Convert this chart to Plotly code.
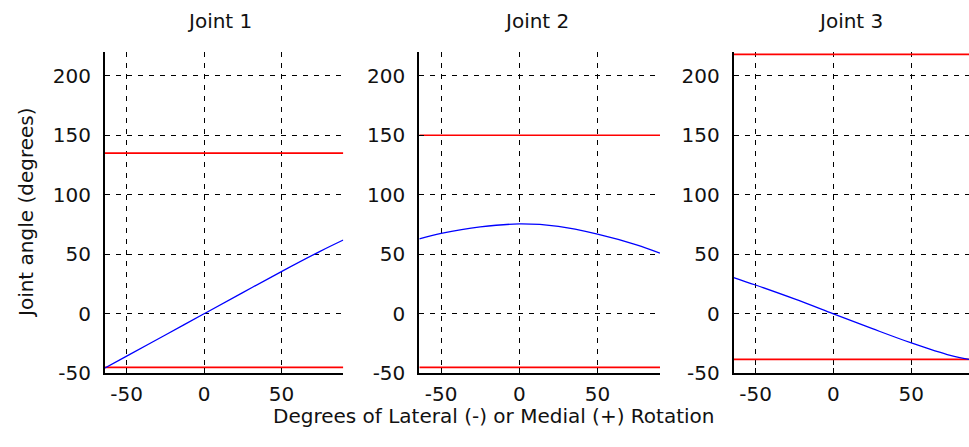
import plotly.graph_objects as go

# ---- data ----
titles = ["Joint 1", "Joint 2", "Joint 3"]
x_j1 = [-64, -50, -25, 0, 25, 50, 75, 90]
y_j1 = [-45.5, -35.6, -17.8, 0, 17.8, 35.5, 52.5, 62]
x_j2 = [-64, -50, -25, 0, 25, 50, 75, 90]
y_j2 = [63, 67.5, 73, 75.5, 73.5, 67, 58, 51]
x_j3 = [-64, -50, -25, 0, 25, 50, 75, 87]
y_j3 = [30.5, 24.2, 12.5, 0, -12.5, -24.5, -35, -38.3]
upper_limits = [135, 150, 218]
lower_limits = [-45, -45, -38.3]
x_min = [-64, -64, -64]
x_max = [90, 90, 87]
y_range = [-50, 220]
x_ticks = [-50, 0, 50]
x_tick_labels = ["-50", "0", "50"]
y_ticks = [-50, 0, 50, 100, 150, 200]
y_tick_labels = ["-50", "0", "50", "100", "150", "200"]

curves = [(x_j1, y_j1), (x_j2, y_j2), (x_j3, y_j3)]

W, H = 969, 447
x_domains = [[105 / W, 343.3 / W], [419.3 / W, 660 / W], [733.7 / W, 1.0]]
y_domain = [(H - 373.3) / H, (H - 52) / H]
title_x = [219, 536, 850]

FONT = "DejaVu Sans, Liberation Sans, sans-serif"
TXT = "#111111"
fig = go.Figure()
for i in range(3):
    xa = "x" if i == 0 else f"x{i+1}"
    ya = "y" if i == 0 else f"y{i+1}"
    for lim in (upper_limits[i], lower_limits[i]):
        fig.add_trace(go.Scatter(x=[x_min[i], x_max[i]], y=[lim, lim], mode="lines",
                                 line=dict(color="#ff0000", width=1.6),
                                 xaxis=xa, yaxis=ya, showlegend=False, cliponaxis=False))
    fig.add_trace(go.Scatter(x=curves[i][0], y=curves[i][1], mode="lines",
                             line=dict(color="#0000ff", width=1.3, shape="spline"),
                             xaxis=xa, yaxis=ya, showlegend=False))
    axcommon = dict(showline=True, linecolor="black", linewidth=2, mirror=False,
                    showgrid=True, gridcolor="black", gridwidth=1, griddash="5px,6px",
                    ticks="inside", ticklen=5, tickcolor="black", zeroline=False,
                    automargin=False,
                    tickfont=dict(family=FONT, size=20, color=TXT))
    xkey = "xaxis" if i == 0 else f"xaxis{i+1}"
    ykey = "yaxis" if i == 0 else f"yaxis{i+1}"
    fig.update_layout({
        xkey: dict(domain=x_domains[i], range=[x_min[i], x_max[i]], tickvals=x_ticks,
                   ticktext=x_tick_labels, anchor=ya, ticklabelstandoff=2, **axcommon),
        ykey: dict(domain=y_domain, range=y_range, tickvals=y_ticks, ticktext=y_tick_labels,
                   anchor=xa, ticklabelstandoff=8, **axcommon),
    })
    fig.add_annotation(text=titles[i], xref="paper", yref="paper",
                       x=title_x[i] / W, y=1 - 21 / H, xanchor="center", yanchor="middle",
                       showarrow=False, font=dict(family=FONT, size=20, color=TXT))

fig.add_annotation(text="Joint angle (degrees)", xref="paper", yref="paper",
                   x=26 / W, y=1 - 213 / H, textangle=-90, xanchor="center", yanchor="middle",
                   showarrow=False, font=dict(family=FONT, size=20, color=TXT))
fig.add_annotation(text="Degrees of Lateral (-) or Medial (+) Rotation", xref="paper", yref="paper",
                   x=493.5 / W, y=1 - 416 / H, xanchor="center", yanchor="middle",
                   showarrow=False, font=dict(family=FONT, size=20, color=TXT))

fig.update_layout(width=W, height=H, margin=dict(l=0, r=0, t=0, b=0),
                  paper_bgcolor="white", plot_bgcolor="white", showlegend=False)
fig.write_html("out.html")
